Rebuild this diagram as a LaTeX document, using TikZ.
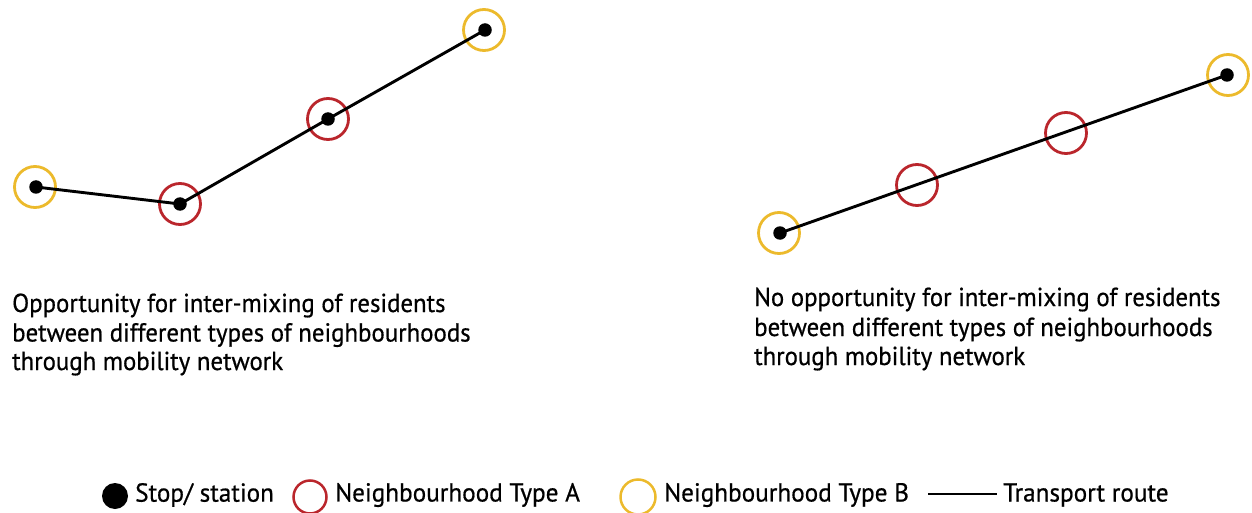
\documentclass[tikz,border=0pt]{standalone}
\usepackage{fontspec}
\setmainfont[FakeStretch=0.955,FakeBold=0.6]{PT Sans}
\newfontfamily\legendfont[FakeStretch=0.97,FakeBold=0.6]{PT Sans}
\definecolor{typeA}{RGB}{186,38,44}
\definecolor{typeB}{RGB}{236,186,44}
\begin{document}
\begin{tikzpicture}[x=1pt,y=-1pt,
  stop/.style={circle,fill=black,inner sep=0pt,minimum size=13.5pt},
  zoneA/.style={circle,draw=typeA,line width=2.8pt,inner sep=0pt,minimum size=41pt},
  zoneB/.style={circle,draw=typeB,line width=2.8pt,inner sep=0pt,minimum size=41pt},
  route/.style={line width=2.9pt,black},
  caption/.style={anchor=base west,inner sep=0pt,font=\fontsize{26}{30}\selectfont},
  legtext/.style={anchor=west,inner sep=0pt,font=\legendfont\fontsize{26}{30}\selectfont}]
\useasboundingbox (0,0) rectangle (1252,513);

% mixed network: route changes neighbourhood type along the way
\node[zoneB] (l1) at (35,187) {};
\node[zoneA] (l2) at (180,204) {};
\node[zoneA] (l3) at (328,119) {};
\node[zoneB] (l4) at (484,30) {};
\node[stop] (s1) at (36,187) {};
\node[stop] (s2) at (180,204) {};
\node[stop] (s3) at (328,119) {};
\node[stop] (s4) at (485,30) {};
\draw[route] (s1.center) -- (s2.center) -- (s3.center) -- (s4.center);

% segregated network: route passes type A areas without stopping
\node[zoneB] (r1) at (779,233) {};
\node[zoneA] (r2) at (917,185) {};
\node[zoneA] (r3) at (1066,133) {};
\node[zoneB] (r4) at (1228,75) {};
\node[stop] (t1) at (780,233) {};
\node[stop] (t4) at (1227,75) {};
\draw[route] (t1.center) -- (t4.center);

% captions
\node[caption] (c1) at (12,312) {Opportunity for inter-mixing of residents};
\node[caption] (c2) at (12,341.5) {between different types of neighbourhoods};
\node[caption] (c3) at (12,370) {through mobility network};
\node[caption] (d1) at (754,306) {No opportunity for inter-mixing of residents};
\node[caption] (d2) at (754,336) {between different types of neighbourhoods};
\node[caption] (d3) at (754,365) {through mobility network};

% legend
\node[circle,fill=black,inner sep=0pt,minimum size=26pt] (k1) at (115,496) {};
\node[legtext] (k1t) at (135,495) {Stop/ station};
\node[circle,draw=typeA,line width=2.5pt,inner sep=0pt,minimum size=33pt] (k2) at (310,497) {};
\node[legtext] (k2t) at (335,495) {Neighbourhood Type A};
\node[circle,draw=typeB,line width=2.5pt,inner sep=0pt,minimum size=35pt] (k3) at (638,497) {};
\node[legtext] (k3t) at (664,495) {Neighbourhood Type B};
\coordinate (k4a) at (928,494);
\coordinate (k4b) at (997,494);
\draw[line width=2pt] (k4a) -- (k4b);
\node[legtext] (k4t) at (1003,495) {Transport route};
\end{tikzpicture}
\end{document}
